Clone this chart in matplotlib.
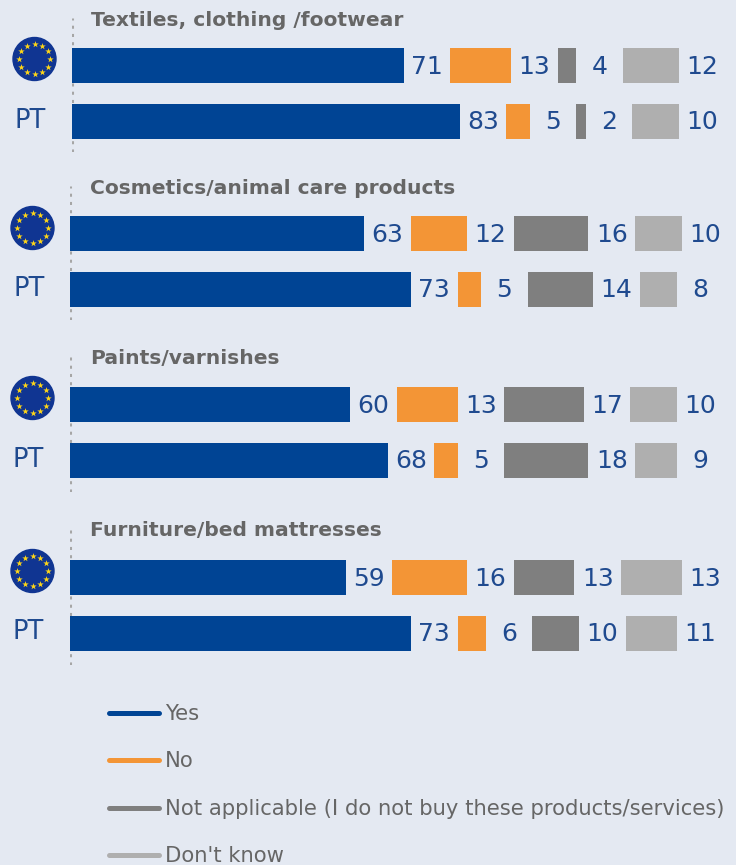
import matplotlib
matplotlib.use('Agg')
import numpy as np
import matplotlib.pyplot as plt
from matplotlib.lines import Line2D
from matplotlib.patches import Circle

W, H = 736, 865
BG = '#E4E9F2'
TXT = '#1F4A8F'
GREY_TXT = '#666666'

groups = ['Textiles, clothing /footwear', 'Cosmetics/animal care products',
          'Paints/varnishes', 'Furniture/bed mattresses']
series = ['Yes', 'No', 'Not applicable (I do not buy these products/services)', "Don't know"]
colors = ['#004494', '#F39536', '#7F7F7F', '#AFAFAF']

eu_yes = [71, 63, 60, 59]
eu_no = [13, 12, 13, 16]
eu_na = [4, 16, 17, 13]
eu_dk = [12, 10, 10, 13]
pt_yes = [83, 73, 68, 73]
pt_no = [5, 5, 5, 6]
pt_na = [2, 14, 18, 10]
pt_dk = [10, 8, 9, 11]

gap = 10  # room for the value label between segments, in % units

# panel layout in pixels: x of zero, top of dotted line, bottom of dotted line
x0s = [72, 70, 70, 70]
tops = [18, 186, 357, 530]
bottoms = [152, 320, 492, 665]
title_y = [20, 188, 358, 531]
title_x = [91, 90, 90, 90]
px_per_unit = 4.67

fig = plt.figure(figsize=(W / 100, H / 100), dpi=100, facecolor=BG)


def add_px_axes(left, top, width, height):
    ax = fig.add_axes([left / W, 1 - (top + height) / H, width / W, height / H])
    ax.axis('off')
    return ax


for i, name in enumerate(groups):
    h = bottoms[i] - tops[i]
    ax = add_px_axes(x0s[i], tops[i], W - x0s[i], h)
    ax.set_xlim(0, (W - x0s[i]) / px_per_unit)
    ax.set_ylim(h, 0)
    ax.axvline(0, color='#A6A6A6', lw=2.2, ls=(0, (1, 1.7)), zorder=1)
    # bar centres relative to the dotted line
    rows = [[eu_yes[i], eu_no[i], eu_na[i], eu_dk[i]],
            [pt_yes[i], pt_no[i], pt_na[i], pt_dk[i]]]
    row_y = [47.5, 103]
    for r, vals in enumerate(rows):
        left = 0
        for s, v in enumerate(vals):
            ax.barh(row_y[r], v, height=35, left=left, color=colors[s], zorder=2)
            ax.text(left + v + gap / 2, row_y[r] + 1, str(v), ha='center', va='center',
                    fontsize=18, color=TXT)
            left += v + gap
    fig.text(title_x[i] / W, 1 - title_y[i] / H, name, ha='left', va='center',
             fontsize=14.6, fontweight='bold', color=GREY_TXT)

# overlay in pixel coordinates for the flags and country labels
over = fig.add_axes([0, 0, 1, 1], facecolor='none')
over.set_xlim(0, W)
over.set_ylim(H, 0)
over.axis('off')
flag_xy = [(34.5, 59), (32.5, 228), (32.5, 398), (32.5, 571)]
pt_xy = [(30, 121), (29, 289), (28, 460), (28, 632)]
for fx, fy in flag_xy:
    over.add_patch(Circle((fx, fy), 21.5, color='#103592', zorder=3))
    ang = np.deg2rad(np.arange(0, 360, 30))
    over.scatter(fx + 15.3 * np.cos(ang), fy + 15.3 * np.sin(ang), marker='*', s=24,
                 color='#FFD617', linewidths=0, zorder=4)
for px, py in pt_xy:
    over.text(px, py, 'PT', ha='center', va='center', fontsize=18.5, color=TXT)

handles = [Line2D([], [], color=c, lw=3.6, solid_capstyle='round') for c in colors]
leg = fig.legend(handles, series, loc='upper left', bbox_to_anchor=(109 / W, 1 - 704 / H),
                 frameon=False, fontsize=15.2, labelcolor=GREY_TXT, handlelength=2.37,
                 handletextpad=0.28, labelspacing=1.3, borderpad=0, borderaxespad=0)

fig.savefig('out.png', dpi=100, facecolor=BG)
